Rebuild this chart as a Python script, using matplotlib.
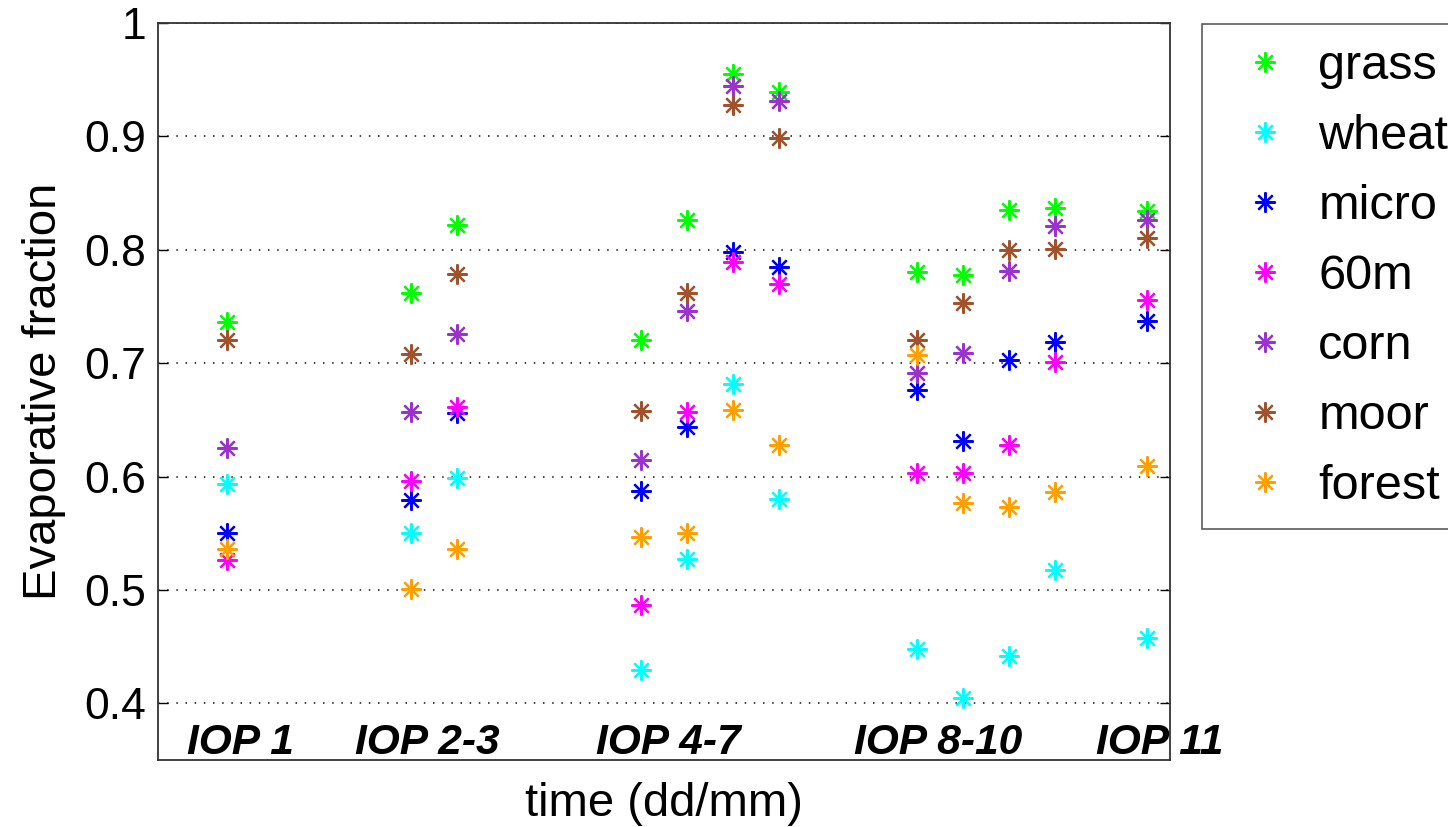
import matplotlib
matplotlib.use("Agg")
import matplotlib.pyplot as plt
from matplotlib.lines import Line2D

plt.rcParams['font.family'] = ['Liberation Sans', 'DejaVu Sans']

# day index within the campaign (x axis spans 0..22 days)
days = [1.5, 5.5, 6.5, 10.5, 11.5, 12.5, 13.5, 16.5, 17.5, 18.5, 19.5, 21.5]

grass  = [0.736, 0.762, 0.822, 0.720, 0.826, 0.955, 0.939, 0.780, 0.778, 0.835, 0.837, 0.834]
wheat  = [0.593, 0.550, 0.599, 0.429, 0.527, 0.682, 0.580, 0.448, 0.405, 0.442, 0.518, 0.458]
micro  = [0.550, 0.579, 0.656, 0.587, 0.644, 0.798, 0.785, 0.676, 0.631, 0.703, 0.719, 0.737]
m60    = [0.526, 0.596, 0.661, 0.487, 0.657, 0.789, 0.770, 0.603, 0.603, 0.628, 0.701, 0.756]
corn   = [0.625, 0.657, 0.726, 0.615, 0.746, 0.944, 0.931, 0.691, 0.709, 0.781, 0.821, 0.826]
moor   = [0.720, 0.708, 0.779, 0.658, 0.762, 0.928, 0.899, 0.720, 0.753, 0.800, 0.801, 0.810]
forest = [0.536, 0.501, 0.536, 0.547, 0.550, 0.659, 0.628, 0.707, 0.577, 0.573, 0.586, 0.609]

series_names = ['grass', 'wheat', 'micro', '60m', 'corn', 'moor', 'forest']
series_vals = [grass, wheat, micro, m60, corn, moor, forest]
series_colors = ['#00FF00', '#00FFFF', '#0000FF', '#FF00FF', '#9933CC', '#A0522D', '#FFA000']

iop_labels = ['IOP 1', 'IOP 2-3', 'IOP 4-7', 'IOP 8-10', 'IOP 11']
iop_pos = [1.78, 5.84, 11.08, 16.95, 21.78]

yticks = [0.4, 0.5, 0.6, 0.7, 0.8, 0.9, 1.0]
yticklabels = ['0.4', '0.5', '0.6', '0.7', '0.8', '0.9', '1']

W, H = 1448, 827
fig = plt.figure(figsize=(W / 100, H / 100), dpi=100)
ax = fig.add_axes([158.3 / W, 1 - 760 / H, (1170 - 158.3) / W, (760 - 23) / H])

marker = (8, 2, 0)
for name, vals, col in zip(series_names, series_vals, series_colors):
    ax.plot(days, vals, linestyle='none', marker=marker, markersize=14.5,
            markeredgewidth=1.6, color=col, label=name, zorder=3)

ax.set_xlim(0, 22)
ax.set_ylim(0.35, 1.0)
ax.set_xticks([])
ax.set_yticks(yticks)
ax.set_yticklabels(yticklabels)
ax.yaxis.grid(True, color='#222222', linestyle=(0, (0.9, 4.6)), linewidth=1.2)
ax.set_axisbelow(True)
ax.tick_params(axis='y', direction='in', length=7, width=1, left=True, right=True,
               labelsize=32, pad=9)
for sp in ax.spines.values():
    sp.set_linewidth(1.3)
    sp.set_color('#333333')

for lab, xp in zip(iop_labels, iop_pos):
    ax.text(xp, 0.3556, lab, ha='center', va='baseline', fontsize=30.6,
            fontweight='bold', fontstyle='italic', clip_on=False)

ax.set_xlabel('time (dd/mm)', fontsize=34, labelpad=16)
ax.set_ylabel('Evaporative fraction', fontsize=34, labelpad=13)

handles = [Line2D([], [], linestyle='none', marker=marker, markersize=14.5,
                  markeredgewidth=1.6, color=c) for c in series_colors]
leg = fig.legend(handles, series_names, loc='upper left',
                 bbox_to_anchor=(1201.7 / W, 1 - 24 / H), bbox_transform=fig.transFigure,
                 fontsize=35, frameon=True, fancybox=False, borderaxespad=0,
                 borderpad=0.415, handlelength=1.77, handletextpad=0.215,
                 labelspacing=0.514, numpoints=1)
leg.get_frame().set_edgecolor('#333333')
leg.get_frame().set_linewidth(1.2)

fig.savefig('out.png', dpi=100)
